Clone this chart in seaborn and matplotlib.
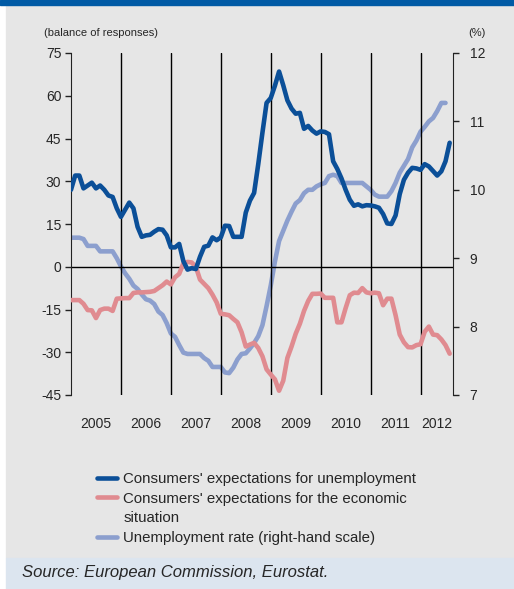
import matplotlib
matplotlib.use("Agg")
import matplotlib.pyplot as plt
import matplotlib.patches as mpatches
from matplotlib.lines import Line2D
import seaborn as sns

# monthly data, Jan 2005 = 0
unemp_expect = [27, 32, 32, 27.5, 28.5, 29.5, 27.5, 28.5, 27, 25, 24.5, 20.5,
                17.5, 20, 22.5, 20.5, 14, 10.5, 11, 11.2, 12.3, 13.2, 13, 11,
                6.8, 6.8, 8, 2, -1, -0.5, -0.8, 3.5, 7, 7.4, 10.3, 9.3,
                10.3, 14.4, 14.3, 10.5, 10.5, 10.5, 19, 23.2, 25.9, 36, 47, 57.5,
                59.2, 63.5, 68.5, 63.7, 58.4, 55.5, 53.7, 54, 48.4, 49.4, 47.8, 46.7,
                47.5, 47.3, 46.5, 37, 34.3, 31, 27, 23.5, 21.4, 21.9, 21.2, 21.6,
                21.5, 21.2, 20.7, 18.5, 15.2, 15, 18, 25.5, 30.5, 33, 34.7, 34.5,
                34, 36, 35.2, 33.6, 32, 33.5, 37, 43.5]
econ_situation = [-11.7, -11.7, -11.7, -13, -15.2, -15.3, -18, -15.2, -14.7, -14.7, -15.5, -11.2,
                  -11.1, -11, -11, -9.2, -9, -9, -8.9, -8.8, -8.5, -7.5, -6.5, -5.2,
                  -6.2, -3.7, -2.5, 1.2, 1.7, 1.5, 0, -4.5, -6, -7.5, -9.8, -12.5,
                  -16.5, -16.7, -17, -18.3, -19.5, -23, -28, -27.3, -26.7, -28.5, -31.4, -36,
                  -37.8, -39.5, -43.5, -40, -32, -28, -23.5, -20, -15.5, -12, -9.5, -9.5,
                  -9.4, -10.9, -10.9, -10.9, -19.5, -19.5, -14.5, -10, -9.1, -9.2, -7.5, -9,
                  -9.3, -9.1, -9.3, -13.5, -11.2, -11.2, -17, -23.8, -26.5, -28.2, -28.3, -27.5,
                  -27.2, -22.8, -21, -23.8, -24, -25.5, -27.5, -30.5]
unemp_rate = [9.3, 9.3, 9.3, 9.28, 9.18, 9.18, 9.18, 9.1, 9.1, 9.1, 9.1, 9.0,
              8.88, 8.78, 8.7, 8.6, 8.55, 8.47, 8.4, 8.38, 8.33, 8.22, 8.17, 8.05,
              7.9, 7.85, 7.73, 7.62, 7.6, 7.6, 7.6, 7.6, 7.54, 7.5, 7.41, 7.41,
              7.41, 7.33, 7.32, 7.4, 7.52, 7.6, 7.61, 7.68, 7.76, 7.86, 8.02, 8.3,
              8.6, 8.95, 9.25, 9.4, 9.55, 9.68, 9.8, 9.85, 9.95, 10.0, 10.0, 10.05,
              10.08, 10.1, 10.2, 10.22, 10.2, 10.1, 10.1, 10.1, 10.1, 10.1, 10.1, 10.05,
              10.0, 9.93, 9.9, 9.9, 9.9, 9.98, 10.1, 10.25, 10.35, 10.45, 10.62, 10.72,
              10.85, 10.92, 11.0, 11.05, 11.15, 11.27, 11.27]
months_a = list(range(len(unemp_expect)))
months_b = list(range(len(unemp_rate)))

years = ["2005", "2006", "2007", "2008", "2009", "2010", "2011", "2012"]
year_pos = [6, 18, 30, 42, 54, 66, 78, 87.9]
year_starts = [12, 24, 36, 48, 60, 72, 84]

labels = ["Consumers' expectations for unemployment",
          "Consumers' expectations for the economic",
          "situation",
          "Unemployment rate (right-hand scale)"]

dark = "#0b4f98"
pink = "#e08b90"
light = "#8c9fce"
grey_bg = "#e6e6e6"

sns.set_style("white")
plt.rcParams["font.family"] = ["Liberation Sans", "DejaVu Sans"]
plt.rcParams["axes.unicode_minus"] = False

fig = plt.figure(figsize=(5.14, 5.89), dpi=100)
fig.patches.append(mpatches.Rectangle((6 / 514, 31 / 589), 507 / 514, 553 / 589,
                                      transform=fig.transFigure, color=grey_bg, zorder=-10))
fig.patches.append(mpatches.Rectangle((6 / 514, 0), 507 / 514, 31 / 589,
                                      transform=fig.transFigure, color="#dce5ef", zorder=-10))
fig.patches.append(mpatches.Rectangle((0, 584 / 589), 1, 5 / 589,
                                      transform=fig.transFigure, color="#005aa5", zorder=-10))

ax = fig.add_axes([71 / 514, 1 - 395 / 589, 382 / 514, 342 / 589])
ax2 = ax.twinx()
ax.set_zorder(ax2.get_zorder() + 1)
ax.patch.set_visible(False)
ax2.patch.set_visible(False)

for x in year_starts:
    ax.axvline(x, color="black", lw=1, zorder=1)
ax.axhline(0, color="black", lw=1, zorder=1)

sns.lineplot(x=months_b, y=unemp_rate, ax=ax2, color=light, lw=3.3)
sns.lineplot(x=months_a, y=econ_situation, ax=ax, color=pink, lw=3.3, zorder=3)
sns.lineplot(x=months_a, y=unemp_expect, ax=ax, color=dark, lw=3.3, zorder=4)

ax.set_xlim(0, 91.8)
ax.set_ylim(-45, 75)
ax.set_yticks(range(-45, 76, 15))
ax2.set_ylim(7, 12)
ax2.set_yticks(range(7, 13))
ax.set_xticks(year_pos)
ax.set_xticklabels(years)

for a in (ax, ax2):
    for s in ("top", "bottom"):
        a.spines[s].set_visible(False)
ax.spines["right"].set_visible(False)
ax2.spines["left"].set_visible(False)
ax.spines["left"].set_color("#222222")
ax2.spines["right"].set_color("#222222")
ax.tick_params(axis="y", length=4, width=1, color="#222222", pad=3, labelsize=10, left=True)
ax2.tick_params(axis="y", length=4, width=1, color="#222222", pad=8, labelsize=10, right=True)
ax.tick_params(axis="x", length=0, pad=16, labelsize=10)

fig.text(44 / 514, 1 - 33 / 589, "(balance of responses)", fontsize=8, va="center", ha="left")
fig.text(486 / 514, 1 - 33 / 589, "(%)", fontsize=8, va="center", ha="right")

handles = [Line2D([], [], color=dark, lw=3.3),
           Line2D([], [], color=pink, lw=3.3),
           Line2D([], [], color="none"),
           Line2D([], [], color=light, lw=3.3)]
fig.legend(handles, labels, loc="upper left", bbox_to_anchor=(97 / 514, 1 - 472 / 589),
           frameon=False, fontsize=10.8, handlelength=1.3, handletextpad=0.45,
           labelspacing=0.38, borderaxespad=0, borderpad=0)

fig.text(22 / 514, 1 - 573 / 589, "Source: European Commission, Eurostat.",
         fontsize=12, style="italic", va="center", ha="left")

fig.savefig("out.png", dpi=100)
